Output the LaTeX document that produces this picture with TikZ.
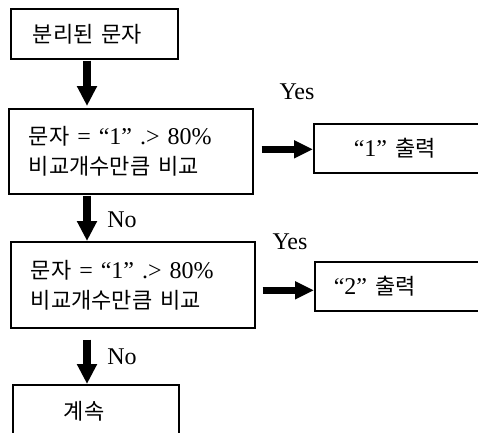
\documentclass[tikz,border=0pt]{standalone}
\usepackage{fontspec}
\setmainfont{Liberation Serif}
\newfontfamily\kr{Noto Sans CJK KR}
\newcommand{\krt}[1]{{\kr\fontsize{22}{30}\selectfont #1}}
\usetikzlibrary{arrows.meta,calc}
\begin{document}
\begin{tikzpicture}[x=1pt,y=-1pt,
  box/.style={draw,line width=1.6pt,inner ysep=0pt,anchor=north west,
    font=\fontsize{24}{30}\selectfont},
  varrow/.style={line width=8pt,-{Triangle[length=20pt,width=19pt]}},
  harrow/.style={line width=7pt,-{Triangle[length=19pt,width=17pt]}},
  lbl/.style={font=\fontsize{24}{28}\selectfont}]
\clip (0,0) rectangle (478,432);
\fill[white] (0,0) rectangle (478,432);
\coordinate (ax) at (87,0);
\node[box,minimum height=50pt,text width=123pt,inner xsep=22pt,align=left] (b1) at (10,8) {\krt{분리된 문자}};
\node[box,minimum height=85pt,text width=204pt,inner xsep=20pt,align=left] (b2) at (8,108)
  {\krt{문자} = “1” .> 80\%\\\krt{비교개수만큼 비교}};
\node[box,minimum height=86pt,text width=204pt,inner xsep=20pt,align=left] (b3) at (10,241)
  {\krt{문자} = “1” .> 80\%\\\krt{비교개수만큼 비교}};
\node[box,minimum height=52pt,text width=64pt,inner xsep=51pt,align=left] (b4) at (12,384)
  {\krt{계속}};
\node[box,minimum height=49pt,text width=150pt,inner xsep=40pt,align=left] (o1) at (313,123)
  {“1” \krt{출력}};
\node[box,minimum height=49pt,text width=170pt,inner xsep=19pt,align=left] (o2) at (314,261)
  {“2” \krt{출력}};
\draw[varrow,shorten <=1pt,shorten >=2pt] (b1.south -| ax) -- (b2.north -| ax);
\draw[varrow,shorten <=1pt] (b2.south -| ax) -- (b3.north -| ax);
\draw[varrow,shorten <=11pt] (b3.south -| ax) -- (b4.north -| ax);
\draw[harrow,shorten <=8pt] ([yshift=-1pt]b2.east |- o1) -- ([yshift=-1pt]o1.west);
\draw[harrow,shorten <=7pt] ([yshift=-4pt]b3.east |- o2) -- ([yshift=-4pt]o2.west);
\node[lbl] (y1) at (297,92) {Yes};
\node[lbl] (y2) at (290,242) {Yes};
\node[lbl] (n1) at (122,220) {No};
\node[lbl] (n2) at (122,357) {No};
\end{tikzpicture}
\end{document}
